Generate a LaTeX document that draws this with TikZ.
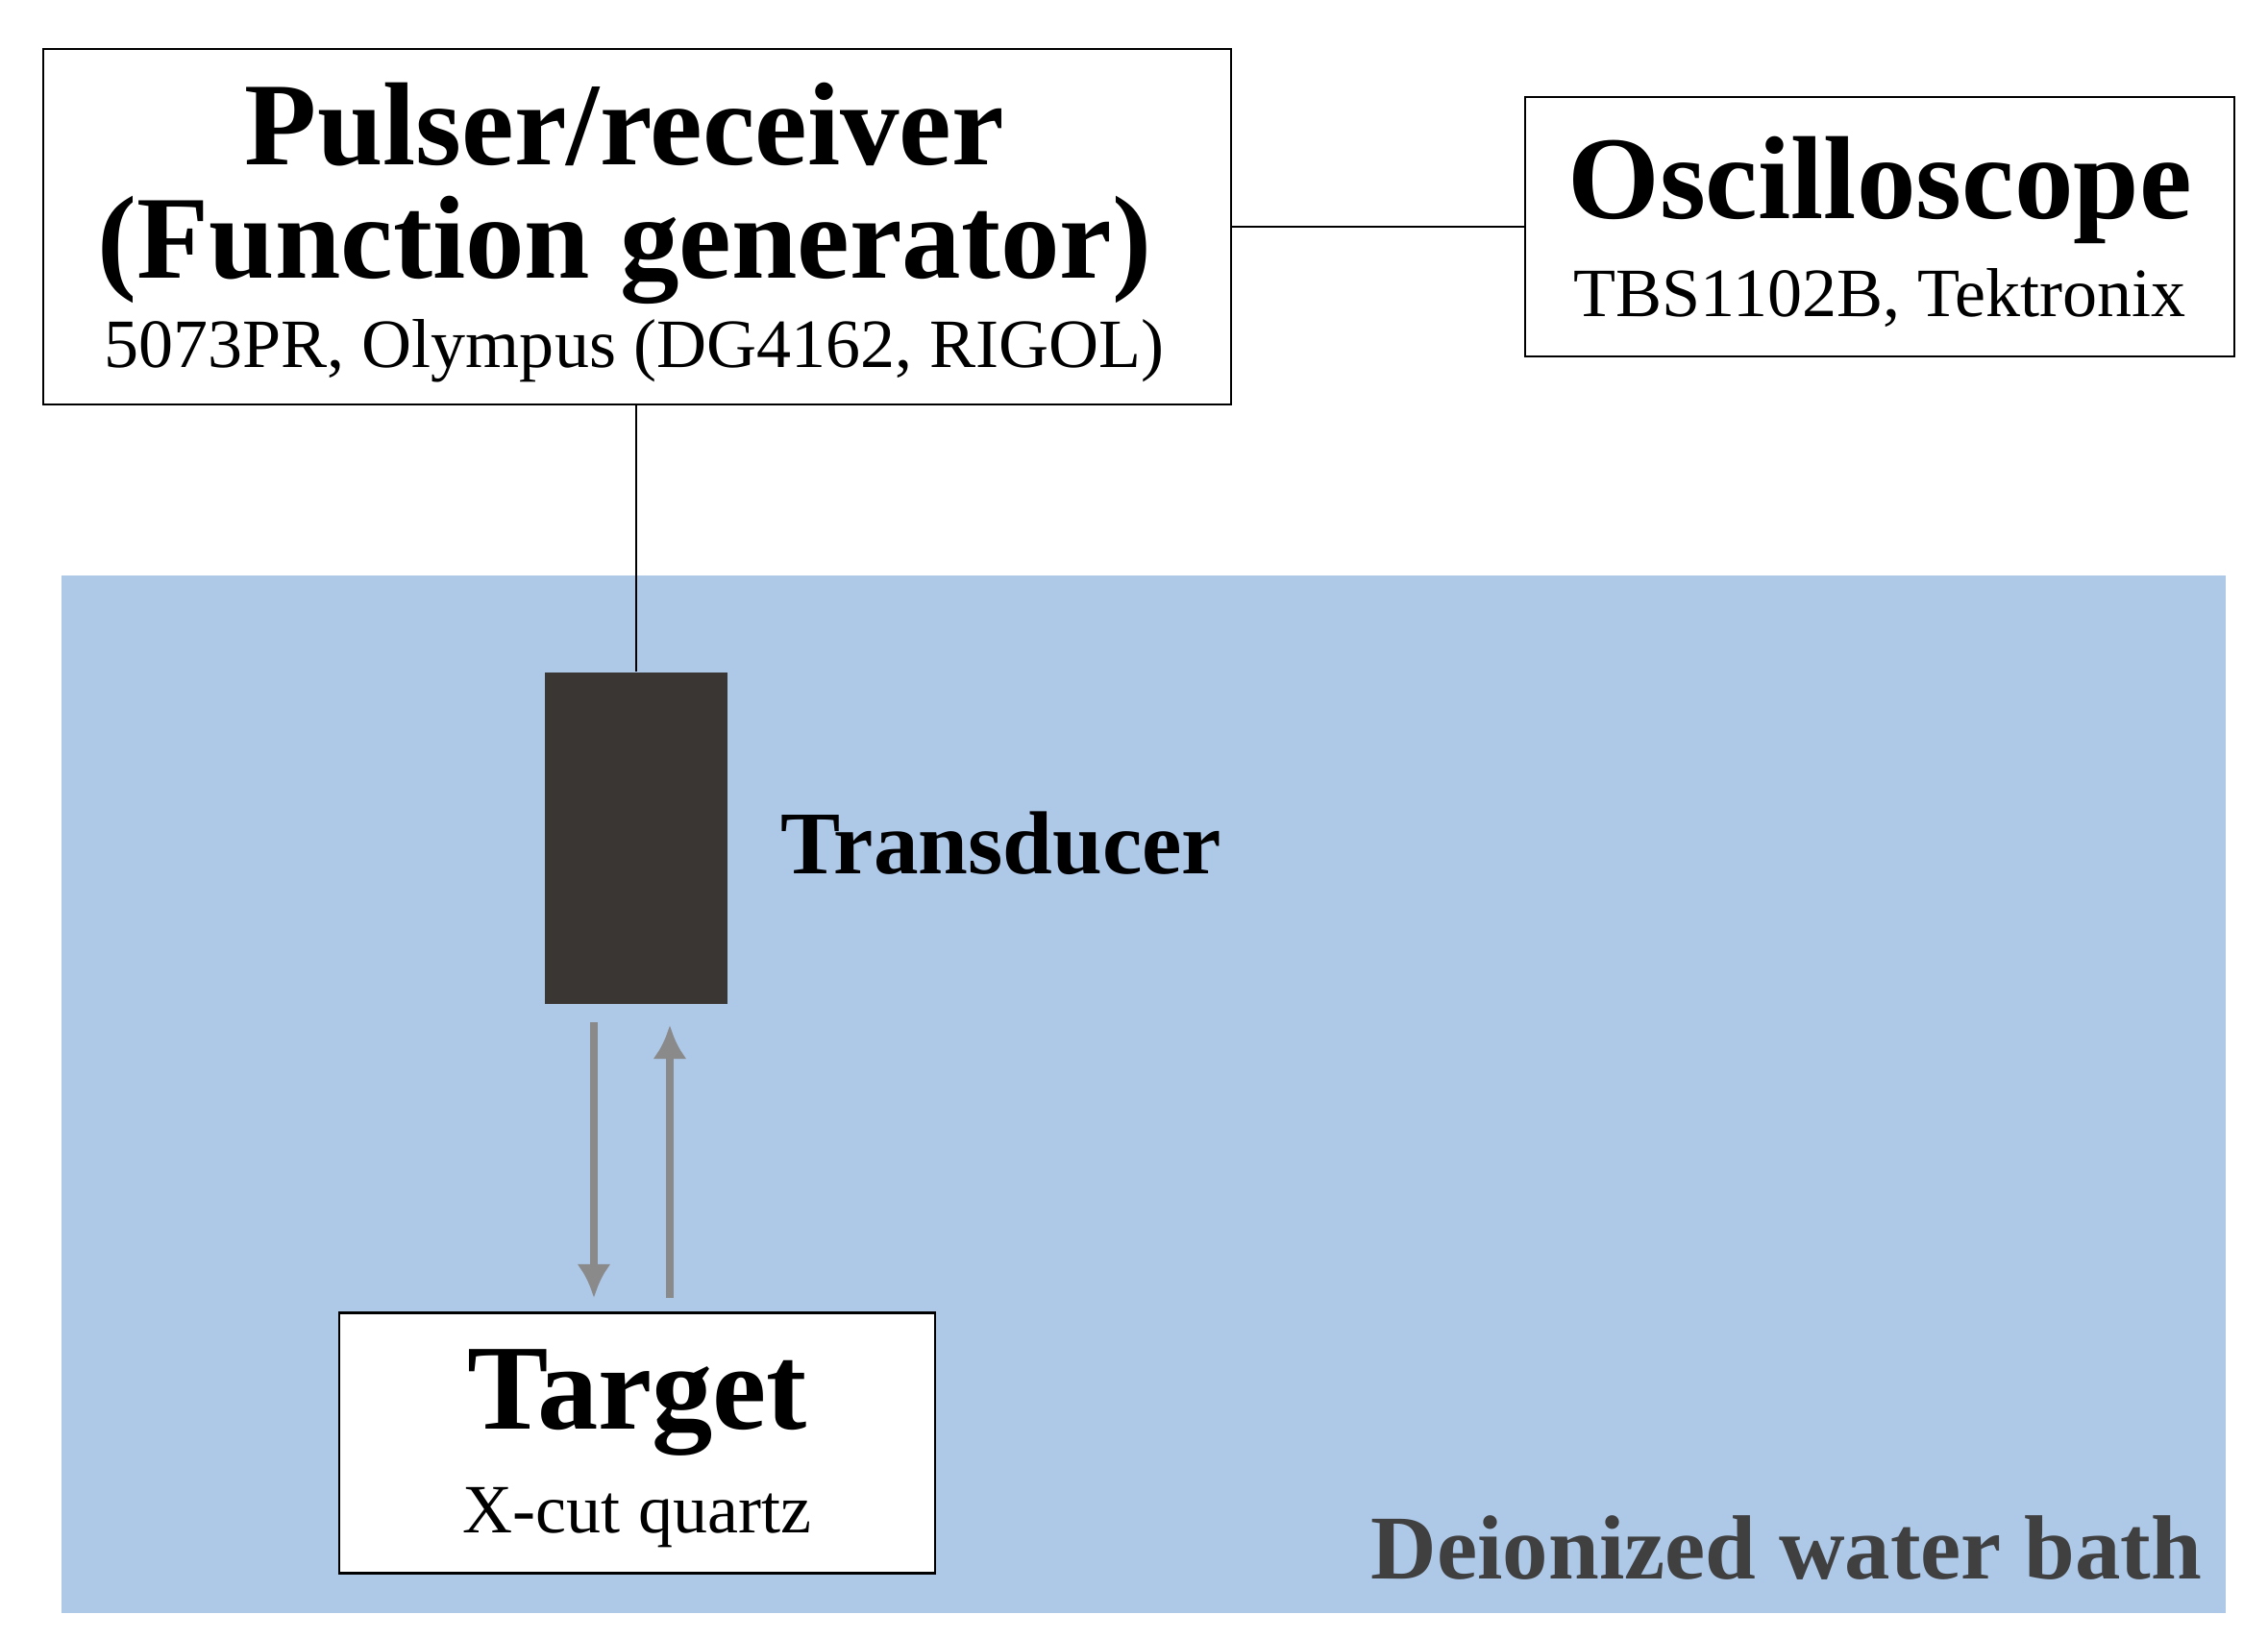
\documentclass[tikz,border=0pt]{standalone}
\usepackage{fontspec}
\setmainfont{Liberation Serif}
\usepackage{tikz}
\usetikzlibrary{arrows.meta}
\definecolor{water}{HTML}{AEC8E8}
\definecolor{probe}{HTML}{3A3634}
\definecolor{wave}{HTML}{8A8A8A}
\begin{document}
\begin{tikzpicture}[
  box/.style={draw, thick, fill=white, align=center, inner sep=0pt},
  title/.style={font=\fontsize{35}{39}\selectfont\bfseries},
  sub/.style={font=\fontsize{20.5}{24}\selectfont}]
  \useasboundingbox (0,0) rectangle (23.6,-17.06);
  % Water bath
  \node[fill=water, minimum width=22.52cm, minimum height=10.8cm, inner sep=0pt] (bath) at (11.9,-11.39) {};
  \node[anchor=south east, text=black!75, font=\fontsize{27}{30}\selectfont\bfseries, inner sep=0pt] (bathlbl) at (22.92,-16.45) {Deionized water bath};
  % Instruments
  \node[box, minimum width=12.36cm, minimum height=3.7cm] (pulser) at (6.63,-2.36) {};
  \node[title, inner sep=0pt] (pulserA) at (6.5,-1.3) {Pulser/receiver};
  \node[title, inner sep=0pt] (pulserB) at (6.5,-2.6) {(Function generator)};
  \node[sub] (pulserC) at (6.6,-3.65) {5073PR, Olympus (DG4162, RIGOL)};
  \node[box, minimum width=7.38cm, minimum height=2.7cm] (scope) at (19.56,-2.36) {};
  \node[title] (scopeA) at (19.56,-1.98) {Oscilloscope};
  \node[sub] (scopeB) at (19.56,-3.1) {TBS1102B, Tektronix};
  % Transducer
  \node[fill=probe, minimum width=1.9cm, minimum height=3.45cm, inner sep=0pt] (probe) at (6.62,-8.72) {};
  \node[anchor=west, font=\fontsize{26.5}{30}\selectfont\bfseries] (probelbl) at (8.0,-8.78) {Transducer};
  % Target
  \node[box, minimum width=6.2cm, minimum height=2.71cm] (target) at (6.63,-15.02) {};
  \node[font=\fontsize{36}{40}\selectfont\bfseries] (targetA) at (6.63,-14.6) {Target};
  \node[sub] (targetB) at (6.63,-15.8) {X-cut quartz};
  % Cables
  \draw[thick] (pulser.east |- scope.west) -- (scope.west);
  \draw[thick] (probe.north) -- (probe.north |- pulser.south);
  % Echo arrows
  \coordinate (dtop) at (6.18,-10.64);
  \coordinate (dbot) at (6.18,-13.51);
  \coordinate (utop) at (6.97,-10.67);
  \coordinate (ubot) at (6.97,-13.51);
  \draw[wave, line width=2.5pt, -{Latex[length=10pt,width=10pt]}] (dtop) -- (dbot);
  \draw[wave, line width=2.5pt, -{Latex[length=10pt,width=10pt]}] (ubot) -- (utop);
\end{tikzpicture}
\end{document}
